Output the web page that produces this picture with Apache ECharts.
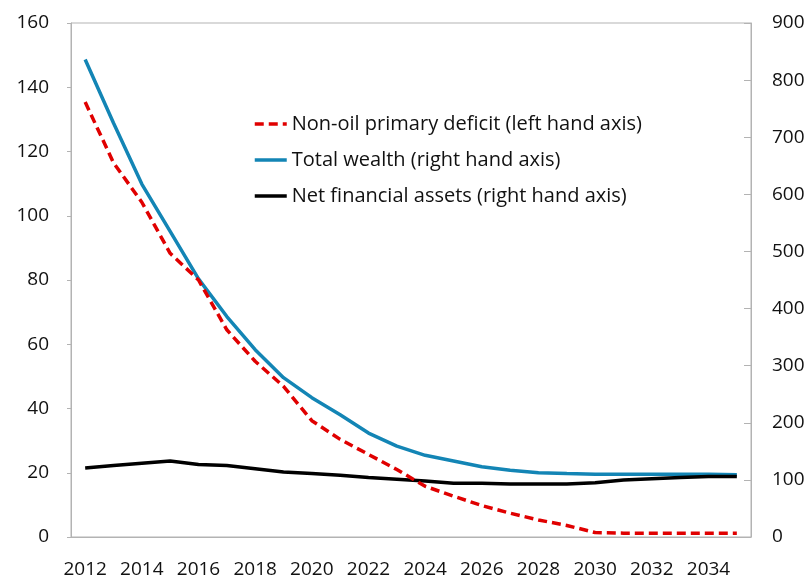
<!DOCTYPE html>
<html>
<head>
<meta charset="utf-8">
<script src="https://cdn.jsdelivr.net/npm/echarts@6/dist/echarts.min.js"></script>
<style>
  html, body { margin: 0; padding: 0; background: #fff; }
  #chart { width: 811px; height: 579px; }
</style>
</head>
<body>
<div id="chart"></div>
<script>
// years on the x axis
var years = ["2012", "2013", "2014", "2015", "2016", "2017", "2018", "2019", "2020", "2021", "2022", "2023",
  "2024", "2025", "2026", "2027", "2028", "2029", "2030", "2031", "2032", "2033", "2034", "2035"];

// left hand axis
var nonOilDeficit = [135.4, 116.5, 104.2, 88.3, 80, 64.5, 54.7, 46.9, 36.2, 30.4, 25.7, 21.0,
  15.8, 12.7, 9.8, 7.4, 5.3, 3.6, 1.4, 1.2, 1.2, 1.2, 1.2, 1.2];

// right hand axis
var totalWealth = [836, 725, 618, 535, 452, 386, 328, 279, 244, 214, 182, 159,
  143, 133, 123, 117, 112.5, 111, 110, 110, 110, 110, 110, 109];
var netFinancialAssets = [121, 125, 129, 133, 127, 125, 119.5, 114, 111, 108, 104, 101,
  98, 94, 94, 92.6, 92.6, 93, 95, 99.6, 102, 104, 106, 106];

var leftTicks = { min: 0, max: 160, interval: 20 };
var rightTicks = { min: 0, max: 900, interval: 100 };

var font = "'Open Sans', 'Noto Sans', sans-serif";
var axisGrey = "#b3b3b3";

var chart = echarts.init(document.getElementById("chart"));
chart.setOption({
  animation: false,
  textStyle: { fontFamily: font },
  grid: {
    left: 71,
    right: 60,
    top: 23,
    bottom: 41,
    show: true,
    borderColor: axisGrey,
    borderWidth: 1
  },
  legend: {
    orient: "vertical",
    left: 248,
    top: 109,
    itemWidth: 32,
    itemHeight: 14,
    itemGap: 16,
    itemStyle: { opacity: 0 },
    lineStyle: { width: 3.5 },
    textStyle: { fontSize: 20, color: "#111", fontFamily: font },
    data: [
      "Non-oil primary deficit (left hand axis)",
      "Total wealth (right hand axis)",
      "Net financial assets (right hand axis)"
    ]
  },
  xAxis: {
    type: "category",
    data: years,
    boundaryGap: true,
    axisLine: { lineStyle: { color: axisGrey } },
    axisTick: { interval: 1, inside: true, length: 7, lineStyle: { color: axisGrey } },
    axisLabel: { interval: 1, fontSize: 19, color: "#111", margin: 23 }
  },
  yAxis: [
    {
      type: "value",
      min: leftTicks.min,
      max: leftTicks.max,
      interval: leftTicks.interval,
      axisLine: { show: true, lineStyle: { color: axisGrey } },
      axisTick: { show: true, length: 4, lineStyle: { color: axisGrey } },
      axisLabel: { fontSize: 19, color: "#111", margin: 22 },
      splitLine: { show: false }
    },
    {
      type: "value",
      min: rightTicks.min,
      max: rightTicks.max,
      interval: rightTicks.interval,
      position: "right",
      axisLine: { show: true, lineStyle: { color: axisGrey } },
      axisTick: { show: true, inside: true, length: 7, lineStyle: { color: axisGrey } },
      axisLabel: { fontSize: 19, color: "#111", margin: 21 },
      splitLine: { show: false }
    }
  ],
  series: [
    {
      name: "Non-oil primary deficit (left hand axis)",
      type: "line",
      yAxisIndex: 0,
      data: nonOilDeficit,
      symbol: "none",
      itemStyle: { color: "#e00000" },
      lineStyle: { color: "#e00000", width: 3.5, type: [9, 5] },
      z: 3
    },
    {
      name: "Total wealth (right hand axis)",
      type: "line",
      yAxisIndex: 1,
      data: totalWealth,
      symbol: "none",
      itemStyle: { color: "#1385b5" },
      lineStyle: { color: "#1385b5", width: 3.5 },
      z: 2
    },
    {
      name: "Net financial assets (right hand axis)",
      type: "line",
      yAxisIndex: 1,
      data: netFinancialAssets,
      symbol: "none",
      itemStyle: { color: "#000" },
      lineStyle: { color: "#000", width: 3.5 },
      z: 2
    }
  ]
});
</script>
</body>
</html>
